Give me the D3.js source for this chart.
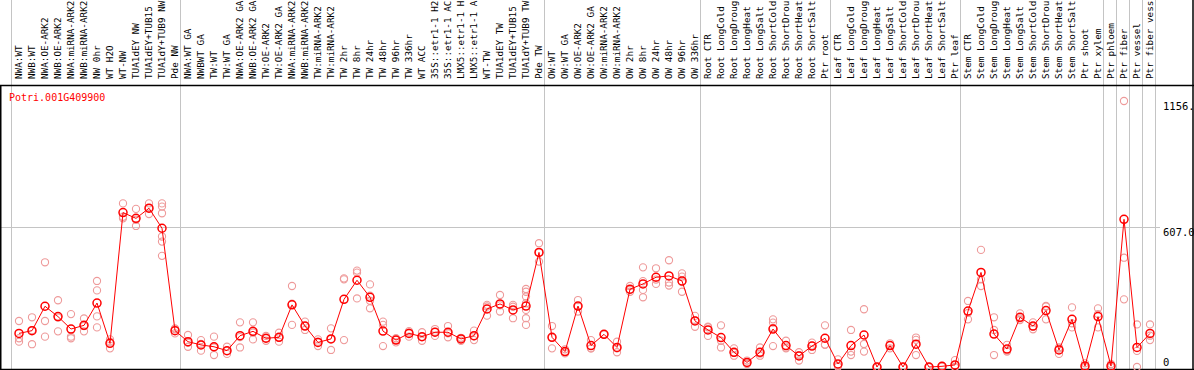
<!DOCTYPE html>
<meta charset="utf-8">
<script src="https://d3js.org/d3.v7.min.js"></script>
<style>
  body { margin: 0; background: #fff; }
  text { font-family: "DejaVu Sans Mono", monospace; }
</style>
<body>
<div id="chart"></div>
<script>
// sample labels, one column each (as they show, cut at the top edge)
var labels = [
  "NWA:WT", "NWB:WT", "NWA:OE-ARK2", "NWB:OE-ARK2", "NWA:miRNA-ARK2", "NWB:miRNA-ARK2",
  "NW 0hr", "WT H2O", "WT-NW", "TUA1dEY NW", "TUA1dEY+TUB15", "TUA1dY+TUB9 NW", "Pde NW",
  "NWA:WT GA", "NWBWT GA", "TW:WT", "TW:WT GA", "NWA:OE-ARK2 GA", "NWB:OE-ARK2 GA",
  "TW:OE-ARK2", "TW:OE-ARK2 GA", "NWA:miRNA-ARK2", "NWB:miRNA-ARK2", "TW:miRNA-ARK2",
  "TW:miRNA-ARK2", "TW 2hr", "TW 8hr", "TW 24hr", "TW 48hr", "TW 96hr", "TW 336hr", "WT ACC",
  "35S::etr1-1 H2", "35S::etr1-1 AC", "LMX5::etr1-1 H", "LMX5::etr1-1 A", "WT-TW",
  "TUA1dEY TW", "TUA1dEY+TUB15", "TUA1dY+TUB9 TW", "Pde TW",
  "OW:WT", "OW:WT GA", "OW:OE-ARK2", "OW:OE-ARK2 GA", "OW:miRNA-ARK2", "OW:miRNA-ARK2",
  "OW 2hr", "OW 8hr", "OW 24hr", "OW 48hr", "OW 96hr", "OW 336hr",
  "Root CTR", "Root LongCold", "Root LongDroug", "Root LongHeat", "Root LongSalt",
  "Root ShortCold", "Root ShortDrou", "Root ShortHeat", "Root ShortSalt", "Ptr root",
  "Leaf CTR", "Leaf LongCold", "Leaf LongDroug", "Leaf LongHeat", "Leaf LongSalt",
  "Leaf ShortCold", "Leaf ShortDrou", "Leaf ShortHeat", "Leaf ShortSalt", "Ptr leaf",
  "Stem CTR", "Stem LongCold", "Stem LongDroug", "Stem LongHeat", "Stem LongSalt",
  "Stem ShortCold", "Stem ShortDrou", "Stem ShortHeat", "Stem ShortSalt", "Ptr shoot",
  "Ptr xylem", "Ptr phloem", "Ptr fiber", "Ptr vessel", "Ptr fiber vess"
];

// mean expression per sample
var means = [
  146, 158, 264, 219, 165, 181, 278, 103, 671, 646, 690, 603, 158,
  110, 96, 88, 71, 136, 155, 125, 129, 270, 178, 107, 122, 294, 377, 303, 156, 117,
  146, 132, 151, 151, 122, 136, 252, 274, 248, 265, 498,
  129, 67, 265, 93, 142, 85, 338, 361, 390, 396, 374, 200,
  161, 128, 64, 20, 64, 165, 93, 48, 91, 125,
  13, 93, 139, 0, 93, 0, 99, 0, 3, 9,
  243, 411, 143, 78, 216, 178, 245, 74, 207, 4, 219,
  4, 642, 85, 146
];

// replicate values per sample
var reps = [
  [200, 125, 110], [216, 160, 99], [455, 200, 132], [290, 215, 155], [230, 132, 125],
  [211, 178, 155], [374, 333, 220, 172], [120, 81, 110], [711, 653, 646], [687, 613, 640],
  [711, 665, 690], [711, 697, 668, 567, 545, 483], [168, 146, 164],
  [139, 88, 105], [117, 71, 100], [132, 52, 85], [88, 57, 70], [194, 85, 130],
  [194, 120, 150], [135, 114, 125], [149, 110, 128], [352, 183, 275], [197, 161, 178],
  [120, 91, 110], [168, 74, 122], [385, 381, 117], [419, 410, 298], [359, 288, 255, 310],
  [197, 183, 91], [125, 107, 118], [156, 132, 150], [151, 114, 131], [165, 135, 153],
  [178, 129, 146], [125, 114, 127], [158, 117, 133], [270, 223, 263], [313, 241, 268],
  [262, 212, 270], [339, 327, 306, 277, 248, 212, 183], [538, 458, 498],
  [178, 81, 128], [77, 59, 65], [291, 241, 263], [117, 81, 81], [142, 142],
  [110, 64, 81], [352, 327, 335], [433, 335, 303, 373], [429, 361, 380],
  [464, 367, 354], [407, 393, 327, 369], [222, 175, 203],
  [175, 135, 173], [181, 114, 85], [81, 49, 62], [28, 13, 19], [85, 49, 58],
  [207, 193, 91, 169], [114, 81, 84], [64, 28, 52], [106, 74, 93], [181, 96, 98],
  [33, 1, 5], [161, 67, 52], [251, 100, 67], [0, 0, 0], [103, 81, 95],
  [0, 0, 0], [128, 118, 52], [0, 0, 0], [5, 2, 2], [30, 0, 0],
  [287, 207, 235], [509, 381, 352], [216, 161, 52], [96, 67, 71], [233, 204, 211],
  [194, 164, 176], [265, 207, 263], [85, 57, 80], [259, 172, 190], [16, 0, 0],
  [255, 172, 230],
  [13, 0, 0], [1156, 475, 294], [185, 0, 70], [185, 117, 136]
];

// column indexes where a vertical separator is drawn
var groupBreaks = [0, 13, 41, 53, 63, 73, 84, 85, 86, 87, 88];

var yTicks = [0, 607.0, 1156];
var yTickLabels = ["0", "607.0", "1156."];
var geneName = "Potri.001G409900";

var width = 1194, height = 370;
var labelBottom = 85;

var svg = d3.select("#chart")
  .append("svg")
    .attr("width", width)
    .attr("height", height)
    .style("display", "block");

svg.append("rect")
  .attr("width", width).attr("height", height)
  .attr("fill", "#fff");

var x = d3.scaleLinear()
  .domain([0, labels.length])
  .range([11, 1155]);

var y = d3.scaleLinear()
  .domain([0, 1156])
  .range([367, 101]);

var cx = function(i) { return x(i) + 8; };

// vertical separators
svg.append("g")
  .selectAll("line")
  .data(groupBreaks)
  .enter()
  .append("line")
    .attr("x1", function(d) { return Math.round(x(d)) + 0.5; })
    .attr("x2", function(d) { return Math.round(x(d)) + 0.5; })
    .attr("y1", 0)
    .attr("y2", height)
    .attr("stroke", "#c4c4c4")
    .attr("stroke-width", 1);

// horizontal grid line at middle tick
svg.append("line")
  .attr("x1", 0)
  .attr("x2", 1160)
  .attr("y1", Math.round(y(yTicks[1])) + 0.5)
  .attr("y2", Math.round(y(yTicks[1])) + 0.5)
  .attr("stroke", "#c4c4c4")
  .attr("stroke-width", 1);

// borders
svg.append("line")
  .attr("x1", 0).attr("x2", width)
  .attr("y1", labelBottom + 0.5).attr("y2", labelBottom + 0.5)
  .attr("stroke", "#000").attr("stroke-width", 1.5);
svg.append("line")
  .attr("x1", 0.75).attr("x2", 0.75)
  .attr("y1", labelBottom).attr("y2", height)
  .attr("stroke", "#000").attr("stroke-width", 1.5);
svg.append("line")
  .attr("x1", 0).attr("x2", width)
  .attr("y1", 369.5).attr("y2", 369.5)
  .attr("stroke", "#000").attr("stroke-width", 1.5);
svg.append("line")
  .attr("x1", 1193).attr("x2", 1193)
  .attr("y1", 0).attr("y2", height)
  .attr("stroke", "#000").attr("stroke-width", 1.5);

// sample labels (rotated)
svg.append("g")
  .selectAll("text")
  .data(labels)
  .enter()
  .append("text")
    .attr("transform", function(d, i) {
      return "translate(" + (x(i) + 11) + "," + 79 + ") rotate(-90)";
    })
    .attr("font-size", "9.3px")
    .attr("fill", "#000")
    .text(function(d) { return d; });

// gene name
svg.append("text")
  .attr("x", 9)
  .attr("y", 101)
  .attr("font-size", "10px")
  .attr("fill", "#ff0000")
  .text(geneName);

// y labels on the right
svg.append("g")
  .selectAll("text")
  .data(yTicks)
  .enter()
  .append("text")
    .attr("x", 1163)
    .attr("y", function(d, i) { return i === 0 ? y(d) - 1 : y(d) + 9; })
    .attr("font-size", "10.5px")
    .attr("fill", "#000")
    .text(function(d, i) { return yTickLabels[i]; });

// replicate points
var repPoints = [];
reps.forEach(function(r, i) { r.forEach(function(v) { repPoints.push({i: i, v: v}); }); });

svg.append("g")
  .selectAll("circle")
  .data(repPoints)
  .enter()
  .append("circle")
    .attr("cx", function(d) { return cx(d.i); })
    .attr("cy", function(d) { return y(d.v); })
    .attr("r", 3.6)
    .attr("fill", "none")
    .attr("stroke", "#ee9a9a")
    .attr("stroke-width", 1.1);

// mean line
svg.append("path")
  .datum(means)
  .attr("fill", "none")
  .attr("stroke", "#ff0000")
  .attr("stroke-width", 1)
  .attr("d", d3.line()
    .x(function(d, i) { return cx(i); })
    .y(function(d) { return y(d); }));

// mean points
svg.append("g")
  .selectAll("circle")
  .data(means)
  .enter()
  .append("circle")
    .attr("cx", function(d, i) { return cx(i); })
    .attr("cy", function(d) { return y(d); })
    .attr("r", 4)
    .attr("fill", "none")
    .attr("stroke", "#ff0000")
    .attr("stroke-width", 1.5);
</script>
</body>
